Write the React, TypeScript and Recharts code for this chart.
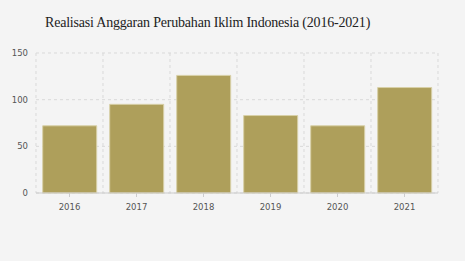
import { Bar, BarChart, CartesianGrid, XAxis, YAxis } from "recharts";

const years = ["2016", "2017", "2018", "2019", "2020", "2021"];
const realisasi = [72, 95, 126, 83, 72, 113];
const yTicks = [0, 50, 100, 150];

const data = years.map((year, i) => ({ year, realisasi: realisasi[i] }));

const tickStyle = { fill: "#555", fontSize: 8.5, fontFamily: "DejaVu Sans, Verdana, sans-serif" };

export default function App() {
  return (
    <div
      style={{
        position: "absolute",
        top: 0,
        left: 0,
        width: 465,
        height: 261,
        background: "#f4f4f4",
      }}
    >
      <div
        style={{
          position: "absolute",
          left: 45,
          top: 15,
          fontFamily: "'Liberation Serif', 'Times New Roman', serif",
          fontSize: 14,
          letterSpacing: -0.2,
          color: "#222",
          whiteSpace: "nowrap",
        }}
      >
        Realisasi Anggaran Perubahan Iklim Indonesia (2016-2021)
      </div>
      <BarChart
        width={465}
        height={261}
        data={data}
        margin={{ top: 53, right: 27, bottom: 38, left: 0 }}
        barCategoryGap="10%"
      >
        <CartesianGrid
          stroke="#d9d9d9"
          strokeDasharray="3 3"
          verticalCoordinatesGenerator={({ offset }) =>
            years.map((_, i) => (offset.left ?? 0) + ((offset.width ?? 0) * i) / years.length).concat(
              (offset.left ?? 0) + (offset.width ?? 0)
            )
          }
        />
        <XAxis
          dataKey="year"
          tick={tickStyle}
          tickLine={{ stroke: "#ccc" }}
          tickSize={4}
          axisLine={{ stroke: "#ccc" }}
          tickMargin={7}
          height={30}
        />
        <YAxis
          domain={[0, 150]}
          ticks={yTicks}
          tick={tickStyle}
          tickLine={false}
          axisLine={false}
          width={36}
          tickMargin={2}
        />
        <Bar
          dataKey="realisasi"
          fill="#ae9f5b"
          stroke="#d8d0a8"
          strokeWidth={1}
          isAnimationActive={false}
        />
      </BarChart>
    </div>
  );
}
